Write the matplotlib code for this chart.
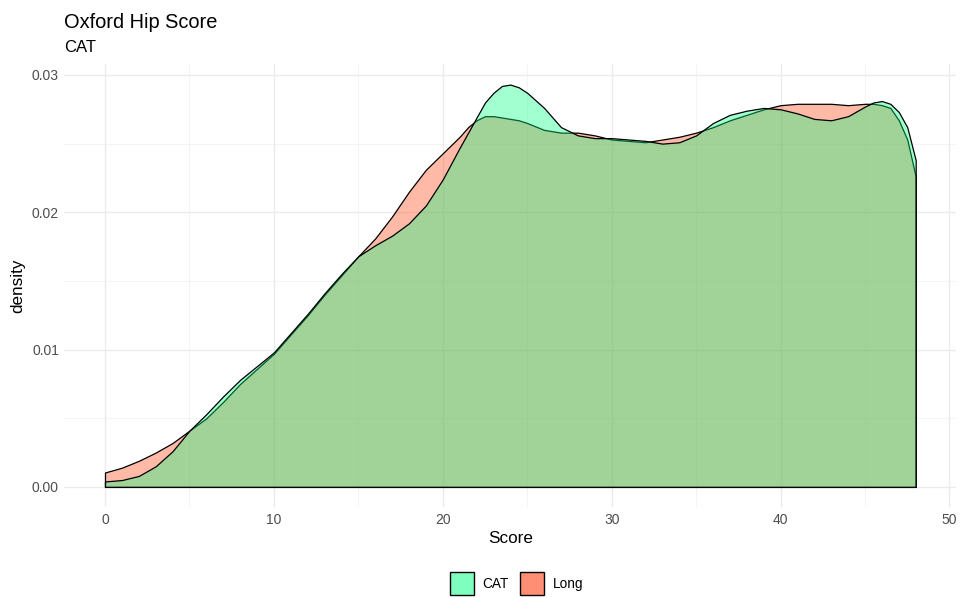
import matplotlib.pyplot as plt
from matplotlib.colors import to_rgba
from matplotlib.patches import Patch

plt.rcParams['font.family'] = ['Liberation Sans', 'DejaVu Sans']

# densities
score = [0, 1, 2, 3, 4, 5, 6, 7, 8, 9, 10, 11, 12, 13, 14, 15, 16, 17, 18, 19,
         20, 21, 21.5, 22, 22.5, 23, 23.5, 24, 24.5, 25, 26, 27, 28, 29, 30,
         31, 32, 33, 34, 35, 36, 37, 38, 39, 40, 41, 42, 43, 44, 45, 45.5, 46,
         46.5, 47, 47.5, 48]
cat = [0.0004, 0.0005, 0.0008, 0.0015, 0.0026, 0.0041, 0.0053, 0.0066, 0.0078,
       0.0088, 0.0098, 0.0112, 0.0126, 0.0141, 0.0155, 0.0168, 0.0176, 0.0183,
       0.0192, 0.0205, 0.0224, 0.0247, 0.0258, 0.0269, 0.0280, 0.0287, 0.0292,
       0.0293, 0.0291, 0.0287, 0.0276, 0.0262, 0.0256, 0.0254, 0.0254, 0.0253,
       0.0252, 0.0250, 0.0251, 0.0256, 0.0265, 0.0271, 0.0274, 0.0276, 0.0275,
       0.0272, 0.0268, 0.0267, 0.0270, 0.0277, 0.0280, 0.0281, 0.0279, 0.0273,
       0.0262, 0.0238]
long = [0.00105, 0.0014, 0.0019, 0.0025, 0.0032, 0.0041, 0.0050, 0.0062,
        0.0075, 0.0086, 0.0097, 0.0111, 0.0125, 0.0140, 0.0154, 0.0168, 0.0181,
        0.0197, 0.0215, 0.0231, 0.0243, 0.0255, 0.0262, 0.0267, 0.0270, 0.0270,
        0.0269, 0.0268, 0.0267, 0.0265, 0.0260, 0.0258, 0.0258, 0.0256, 0.0253,
        0.0252, 0.0251, 0.0253, 0.0255, 0.0258, 0.0262, 0.0267, 0.0271, 0.0275,
        0.0278, 0.0279, 0.0279, 0.0279, 0.0278, 0.0279, 0.0279, 0.0278, 0.0276,
        0.0267, 0.0253, 0.0226]

groups = ["CAT", "Long"]
cat_col = to_rgba("#00FF80", 0.37)
long_col = to_rgba("#FF6A45", 0.47)

fig = plt.figure(figsize=(9.62, 5.98), dpi=100)
ax = fig.add_axes([0.067, 0.152, 0.927, 0.741])

ax.fill_between(score, long, 0, facecolor=long_col, edgecolor="black", linewidth=0.9)
ax.fill_between(score, cat, 0, facecolor=cat_col, edgecolor="black", linewidth=0.9)

ax.set_xlim(-2.4, 50.4)
ax.set_ylim(-0.00147, 0.0308)
ax.set_xticks([0, 10, 20, 30, 40, 50])
ax.set_xticks([5, 15, 25, 35, 45], minor=True)
ax.set_yticks([0, 0.01, 0.02, 0.03])
ax.set_yticks([0.005, 0.015, 0.025], minor=True)
ax.set_yticklabels(["0.00", "0.01", "0.02", "0.03"])
ax.grid(which="major", color="#ebebeb", linewidth=1.0)
ax.grid(which="minor", color="#f2f2f2", linewidth=0.6)
ax.set_axisbelow(True)
for s in ax.spines.values():
    s.set_visible(False)
ax.tick_params(which="both", length=0, labelsize=10, labelcolor="#4d4d4d", pad=4)

ax.set_xlabel("Score", fontsize=12.3, labelpad=3)
ax.set_ylabel("density", fontsize=12.3, labelpad=5)

fig.text(0.067, 0.963, "Oxford Hip Score", fontsize=14.4, va="center", ha="left")
fig.text(0.067, 0.921, "CAT", fontsize=12, va="center", ha="left")

handles = [Patch(facecolor=to_rgba("#00FF80", 0.5), edgecolor="black", linewidth=1.0),
           Patch(facecolor=to_rgba("#FF6A45", 0.75), edgecolor="black", linewidth=1.0)]
fig.legend(handles, groups, loc="center", bbox_to_anchor=(0.537, 0.024), ncol=2,
           frameon=False, fontsize=9.8, handlelength=1.75, handleheight=2.3,
           columnspacing=0.8, handletextpad=0.65, borderaxespad=0, borderpad=0)

fig.savefig("out.png", dpi=100)
